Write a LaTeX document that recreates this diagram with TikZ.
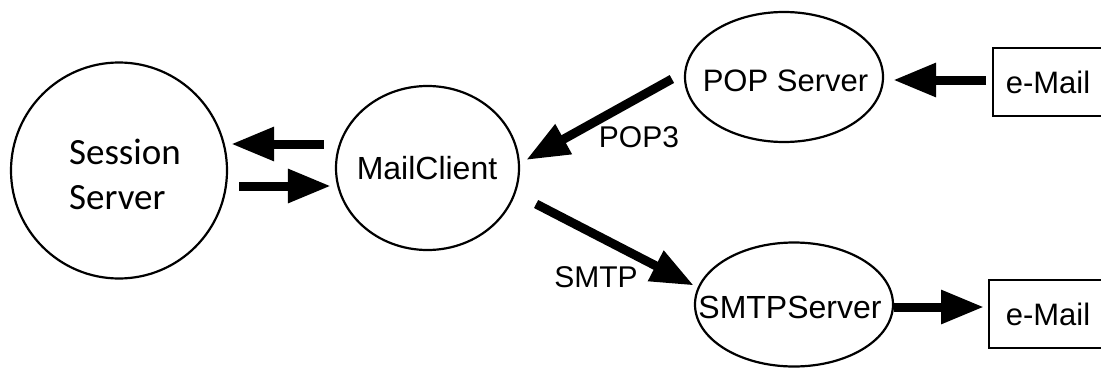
\documentclass[tikz,border=0pt]{standalone}
\usepackage{fontspec}
\setmainfont{Liberation Sans}
\newfontfamily\calfont{Carlito}
\usetikzlibrary{arrows.meta,shapes.geometric,calc}

\tikzset{
  shape ring/.style={draw, line width=2.2pt, inner sep=0pt},
  ovalnode/.style={shape ring, ellipse},
  roundnode/.style={shape ring, circle},
  mailbox/.style={draw, line width=2pt, rectangle, inner sep=0pt,
    minimum height=68pt, font=\fontsize{31}{37}\selectfont},
  plain/.style={inner sep=0pt, font=\fontsize{31}{37}\selectfont},
  arr/.style={line width=9pt, -{Triangle[length=43pt,width=32pt]}}
}

\begin{document}
\begin{tikzpicture}[x=1pt,y=-1pt]
\useasboundingbox (0,0) rectangle (1101,367);

% session server
\node[roundnode, minimum size=216pt] (ss) at (119,170.5) {};
\node[inner sep=0pt, align=left, font=\calfont\fontsize{37}{45}\selectfont]
  (sstext) at (125,174) {Session\\Server};

% mail client
\node[ovalnode, minimum width=183pt, minimum height=164pt] (mc) at (427.5,168) {};
\node[plain, font=\fontsize{32}{38}\selectfont] (mctext) at (427,168.5) {MailClient};

% POP server
\node[ovalnode, minimum width=198pt, minimum height=130pt] (pop) at (784,77) {};
\node[plain] (poptext) at (785.5,81) {POP Server};

% SMTP server
\node[ovalnode, minimum width=198pt, minimum height=124pt] (smtp) at (794,304.5) {};
\node[plain, font=\fontsize{32}{38}\selectfont] (smtptext) at (790,307) {SMTPServer};

% mail boxes, running off the right edge
\node[mailbox, minimum width=124pt] (mailin) at (1055,82) {};
\node[plain] (mailintext) at (1048,82) {e-Mail};
\node[mailbox, minimum width=132pt] (mailout) at (1055,314) {};
\node[plain] (mailouttext) at (1048,314) {e-Mail};

% arrows between session server and mail client
\draw[arr] ($(mc.west)+(-11,-24)$) -- ($(ss.east)+(3,-26.5)$);
\draw[arr] ($(ss.east)+(11,15.5)$) -- ($(mc.west)+(-4,18)$);

% POP3 retrieval
\draw[arr] ($(pop.west)+(-12,2)$) -- ($(mc.east)+(6,-8)$);
\node[plain, font=\fontsize{30}{36}\selectfont] (poplabel) at (639,137) {POP3};

% SMTP delivery
\draw[arr] ($(mc.east)+(16,36)$) -- ($(smtp.west)+(0,-19)$);
\node[plain, font=\fontsize{30}{36}\selectfont] (smtplabel) at (596,277.5) {SMTP};

% incoming and outgoing mail
\draw[arr] ($(mailin.west)+(-6,-2)$) -- ($(pop.east)+(9,3)$);
\draw[arr] ($(smtp.east)+(0,2.5)$) -- ($(mailout.west)+(-4,-7)$);
\end{tikzpicture}
\end{document}
